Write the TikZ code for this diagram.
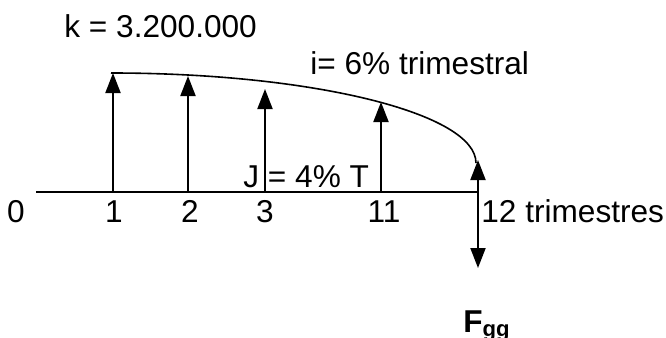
\documentclass[tikz,border=0pt]{standalone}
\usepackage{fontspec}
\setmainfont{Liberation Sans}
\usetikzlibrary{positioning,arrows.meta}

\begin{document}
\begin{tikzpicture}[
			x=0.5pt, y=-0.5pt,
			>={Triangle[length=10pt,width=7.5pt]},
			flow/.style={->, line width=1pt},
			axisline/.style={line width=1pt},
			lbl/.style={
				inner sep=0pt,
				font=\fontsize{15.8}{18}\selectfont
			}
			]
			
			\useasboundingbox (0,0) rectangle (666,338);
			
			%%%%%%%%%%%%%%%%%%%%%%%%%%%%%%%%%%%%%%%%%%%%%%%%%%%%%%
			% Points on the time line
			%%%%%%%%%%%%%%%%%%%%%%%%%%%%%%%%%%%%%%%%%%%%%%%%%%%%%%
			
			\coordinate (p0) at (36,192);
			\coordinate (p1) at (113,192);
			\coordinate (p2) at (188,192);
			\coordinate (p3) at (265,192);
			\coordinate (p11) at (381,192);
			\coordinate (p12) at (478,192);
			
			\coordinate (t1) at (113,73);
			\coordinate (t2) at (188,76);
			\coordinate (t3) at (265,89);
			\coordinate (t11) at (381,102);
			\coordinate (t12) at (478,160);
			\coordinate (fdown) at (478,268);
			
			%%%%%%%%%%%%%%%%%%%%%%%%%%%%%%%%%%%%%%%%%%%%%%%%%%%%%%
			% Labels
			%%%%%%%%%%%%%%%%%%%%%%%%%%%%%%%%%%%%%%%%%%%%%%%%%%%%%%
			
			\node (capital) [lbl, anchor=base west] at (64,37) {k = 3.200.000};
			\node (rate) [lbl, anchor=west] at (310,63) {i= 6\% trimestral};
			\node (growth) [lbl, anchor=west] at (243,177) {J = 4\% T};
			
			\node (n0) [lbl, anchor=base] at (16,222) {0};
			\node (n1) [lbl, anchor=base] at (114,222) {1};
			\node (n2) [lbl, anchor=base] at (190,222) {2};
			\node (n3) [lbl, anchor=base] at (265,222) {3};
			\node (n11) [lbl, anchor=base] at (384,222) {11};
			\node (n12) [lbl, anchor=base west] at (481,222) {12 trimestres};
			
			\node (future) [lbl, anchor=base west] at (463,332)
			{\bfseries F\textsubscript{gg}};
			
			%%%%%%%%%%%%%%%%%%%%%%%%%%%%%%%%%%%%%%%%%%%%%%%%%%%%%%
			% Time line and payments
			%%%%%%%%%%%%%%%%%%%%%%%%%%%%%%%%%%%%%%%%%%%%%%%%%%%%%%
			
			\draw[axisline] (p0) -- (p12);
			
			\draw[flow] (p1) -- (t1);
			\draw[flow] (p2) -- (t2);
			\draw[flow] (p3) -- (t3);
			\draw[flow] (p11) -- (t11);
			\draw[flow] (p12) -- (t12);
			\draw[flow] (p12) -- (fdown);
			
			%%%%%%%%%%%%%%%%%%%%%%%%%%%%%%%%%%%%%%%%%%%%%%%%%%%%%%
			% Growth curve
			%%%%%%%%%%%%%%%%%%%%%%%%%%%%%%%%%%%%%%%%%%%%%%%%%%%%%%
			
			\draw[line width=0.8pt]
			(111,73)
			arc[start angle=90, end angle=0, x radius=182.5pt, y radius=45pt];
			
		\end{tikzpicture}
\end{document}
